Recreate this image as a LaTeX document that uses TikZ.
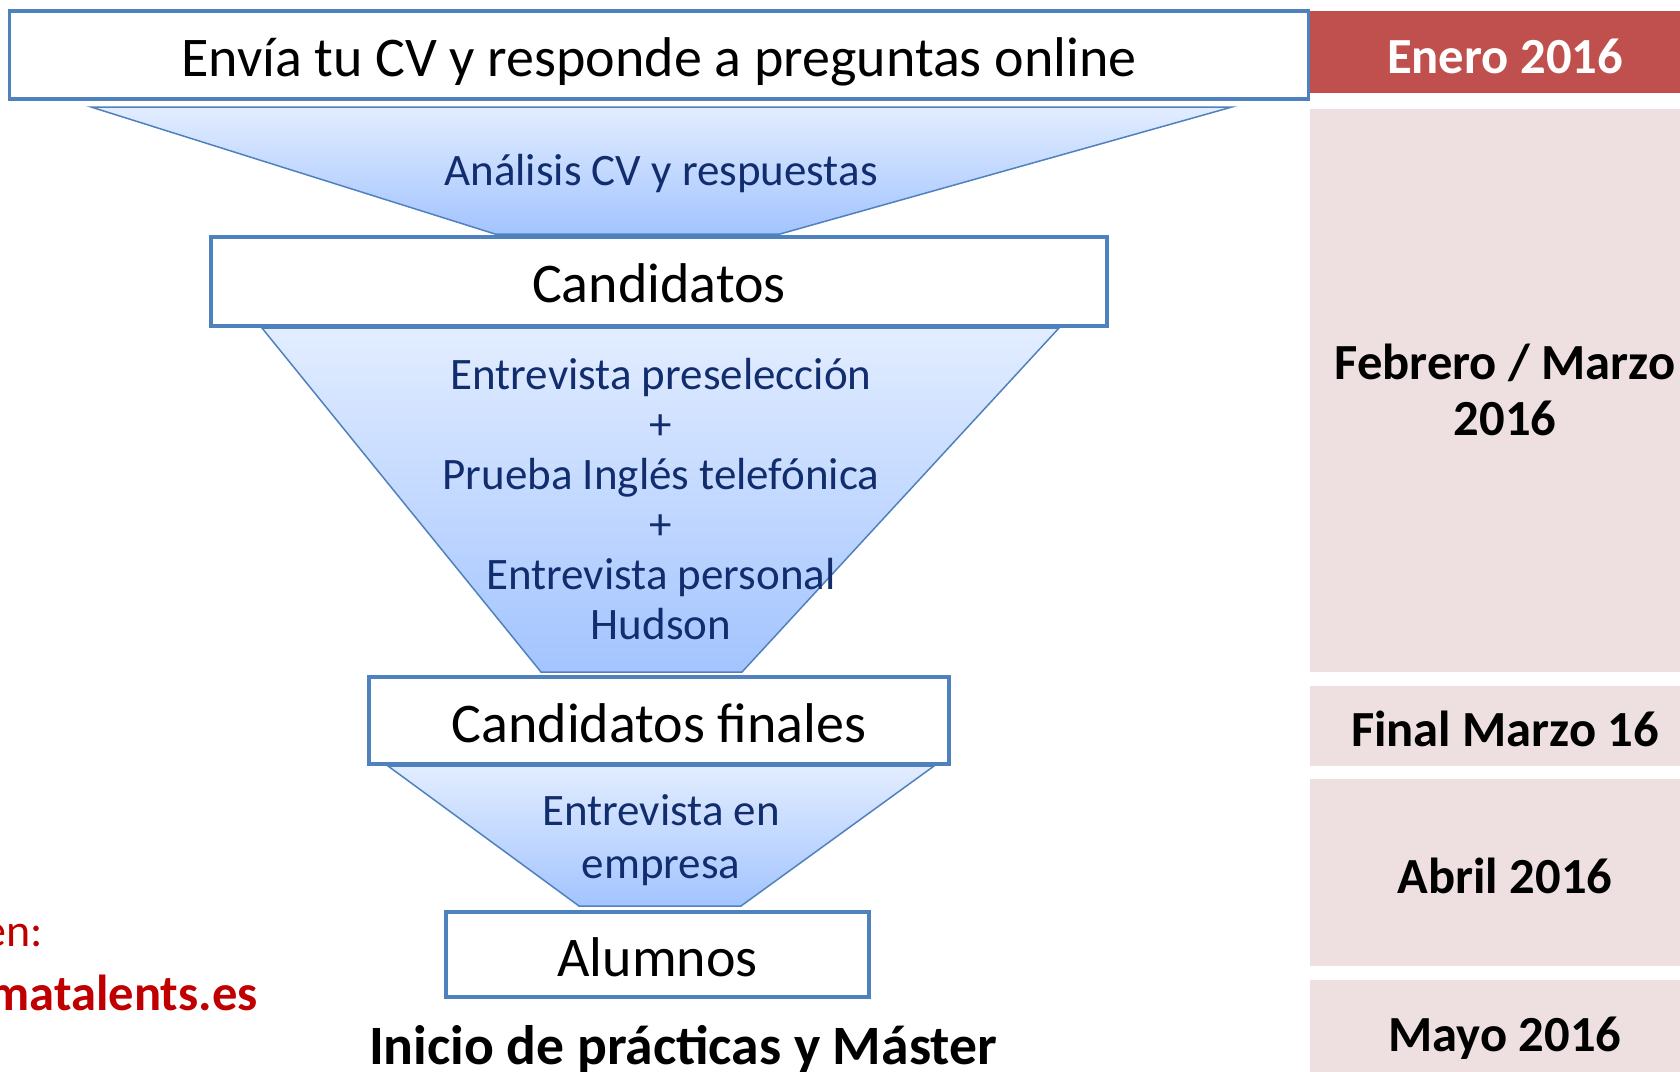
\documentclass[tikz,border=0pt]{standalone}
\usepackage{fontspec}
\setmainfont{Carlito}
\usepackage{tikz}
\usetikzlibrary{positioning}
\definecolor{boxblue}{RGB}{79,129,189}
\definecolor{navytext}{RGB}{18,45,110}
\definecolor{headred}{RGB}{192,80,77}
\definecolor{datepink}{RGB}{238,224,224}
\definecolor{linkred}{RGB}{192,0,0}
\definecolor{funneltop}{RGB}{226,237,255}
\definecolor{funnelbot}{RGB}{163,196,255}
\tikzstyle{stage}=[draw=boxblue, line width=1.7pt, fill=white, inner sep=0pt,
  font=\fontsize{28}{30}\selectfont]
\tikzstyle{funnel}=[draw=boxblue, line width=0.75pt, top color=funneltop, bottom color=funnelbot]
\tikzstyle{funneltext}=[text=navytext, align=center, inner sep=0pt,
  font=\fontsize{22.5}{25}\selectfont]
\tikzstyle{datebox}=[fill=datepink, inner sep=0pt, align=center,
  font=\bfseries\fontsize{25.3}{28}\selectfont]
\newcommand{\lowtext}[2][1.5pt]{\raisebox{-#1}[\height][\depth]{#2}}

\begin{document}
\begin{tikzpicture}[x=0.5pt, y=-0.5pt]

    \clip (0,0) rectangle (1680,1071);

    % date column on the right
    \node[datebox, fill=headred, text=white, minimum width=195pt, minimum height=41pt]
      (enero) at (1505,52) {\lowtext[2pt]{Enero 2016}};
    \node[datebox, minimum width=195pt, minimum height=281.5pt]
      (febrero) at (1505,390) {Febrero / Marzo\\2016};
    \node[datebox, minimum width=195pt, minimum height=40pt]
      (final) at (1505,726) {\lowtext{Final Marzo 16}};
    \node[datebox, minimum width=195pt, minimum height=93.5pt]
      (abril) at (1505,872.5) {\lowtext{Abril 2016}};
    \node[datebox, minimum width=195pt, minimum height=58pt]
      (mayo) at (1505,1038) {Mayo 2016};

    % funnels between the stages
    \draw[funnel] (91,107) -- (1232,107) -- (780,234) -- (495,234) -- cycle;
    \draw[funnel] (262,328) -- (1059,328) -- (742,672) -- (541,672) -- cycle;
    \draw[funnel] (388,766) -- (934,766) -- (741,906) -- (579,906) -- cycle;

    % stages
    \node[stage, minimum width=649.5pt, minimum height=44pt]
      (envia) at (659,55) {\lowtext[3.5pt]{Envía tu CV y responde a preguntas online}};
    \node[stage, minimum width=448pt, minimum height=44.5pt]
      (candidatos) at (659,281.5) {\lowtext[1pt]{Candidatos}};
    \node[stage, minimum width=290pt, minimum height=43.5pt]
      (finales) at (659,720.5) {\lowtext{Candidatos finales}};
    \node[stage, minimum width=211.5pt, minimum height=42.5pt]
      (alumnos) at (657.5,954.5) {\lowtext{Alumnos}};

    % texts inside the funnels
    \node[funneltext] (analisis) at (661,173) {Análisis CV y respuestas};
    \node[funneltext] (entrevistas) at (661,499)
      {Entrevista preselección\\+\\Prueba Inglés telefónica\\+\\Entrevista personal\\Hudson};
    \node[funneltext, font=\fontsize{22.5}{26.8}\selectfont]
      (empresa) at (661,840) {Entrevista en\\empresa};

    % bottom line and left note
    \node[font=\bfseries\fontsize{27.8}{30}\selectfont] (inicio) at (683,1049)
      {Inicio de prácticas y Máster};
    \node[anchor=east, text=linkred, inner sep=0pt, font=\fontsize{23}{24}\selectfont]
      (en) at (43,936) {en:};
    \node[anchor=east, text=linkred, inner sep=0pt, font=\bfseries\fontsize{25.3}{26}\selectfont]
      (web) at (258,993) {matalents.es};
  \end{tikzpicture}
\end{document}
